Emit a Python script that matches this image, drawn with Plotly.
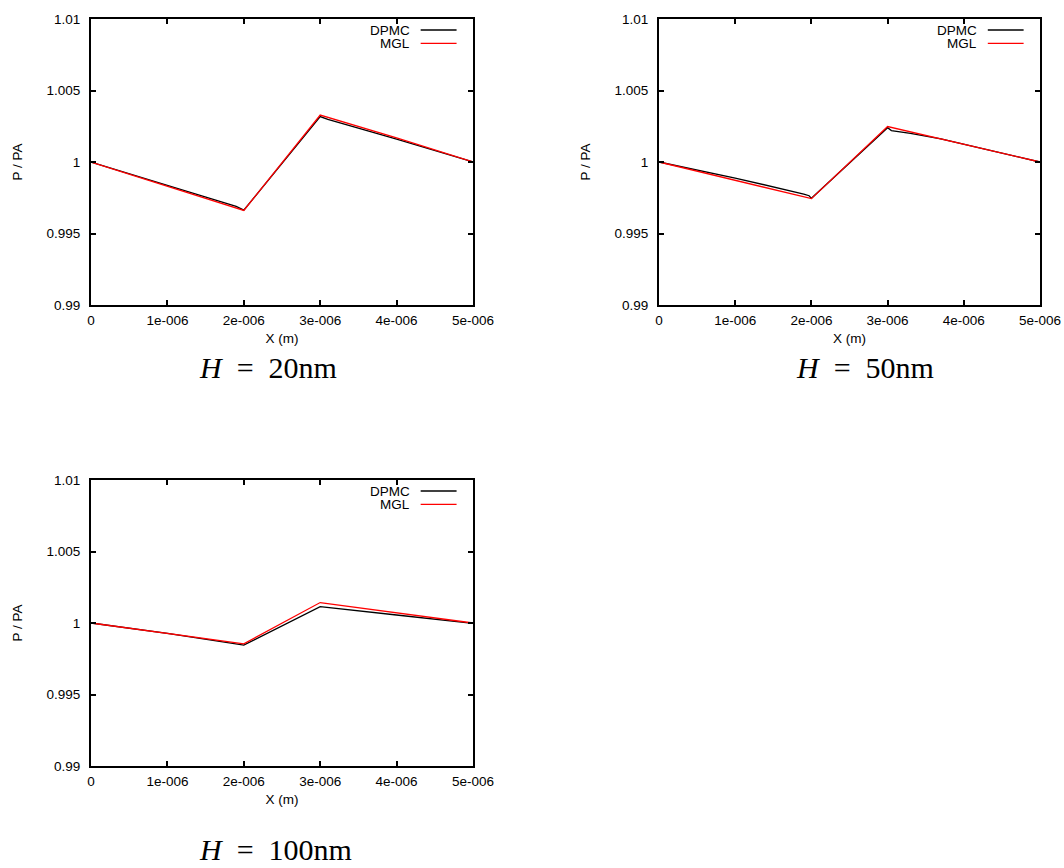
import plotly.graph_objects as go

# ---------------- data ----------------
x_ticks = [0, 1e-6, 2e-6, 3e-6, 4e-6, 5e-6]
x_tick_labels = ["0", "1e-006", "2e-006", "3e-006", "4e-006", "5e-006"]
y_ticks = [0.99, 0.995, 1.0, 1.005, 1.01]
y_tick_labels = ["0.99", "0.995", "1", "1.005", "1.01"]

series_names = ["DPMC", "MGL"]
captions = ["20nm", "50nm", "100nm"]

# H = 20nm
h20_dpmc_x = [0, 1e-6, 1.9e-6, 2e-6, 3e-6, 3.1e-6, 4e-6, 5e-6]
h20_dpmc_y = [1.0, 0.99836, 0.99690, 0.99663, 1.00318, 1.00298, 1.00160, 1.0]
h20_mgl_x = [0, 1e-6, 2e-6, 3e-6, 4e-6, 5e-6]
h20_mgl_y = [1.0, 0.99831, 0.99661, 1.00328, 1.00168, 1.0]

# H = 50nm
h50_dpmc_x = [0, 1e-6, 1.9e-6, 1.97e-6, 2e-6, 3e-6, 3.05e-6, 3.3e-6, 3.7e-6, 4e-6, 5e-6]
h50_dpmc_y = [1.0, 0.99888, 0.99776, 0.99764, 0.99746, 1.00240, 1.00220, 1.00200, 1.00162, 1.00125, 1.0]
h50_mgl_x = [0, 1e-6, 2e-6, 3e-6, 4e-6, 5e-6]
h50_mgl_y = [1.0, 0.99873, 0.99744, 1.00248, 1.00125, 1.0]

# H = 100nm
h100_dpmc_x = [0, 1e-6, 2e-6, 3e-6, 4e-6, 5e-6]
h100_dpmc_y = [1.0, 0.99927, 0.99845, 1.00115, 1.00056, 0.99998]
h100_mgl_x = [0, 1e-6, 2e-6, 3e-6, 4e-6, 5e-6]
h100_mgl_y = [1.0, 0.99928, 0.99854, 1.00143, 1.00073, 1.0]

colors = ["#000000", "#ff0000"]

panels = [
    (h20_dpmc_x, h20_dpmc_y, h20_mgl_x, h20_mgl_y),
    (h50_dpmc_x, h50_dpmc_y, h50_mgl_x, h50_mgl_y),
    (h100_dpmc_x, h100_dpmc_y, h100_mgl_x, h100_mgl_y),
]

W, H = 1064, 868
# pixel boxes (left, right, top, bottom)
boxes = [(91, 473, 19, 305), (659, 1040, 19, 305), (91, 473, 480, 766)]
caption_pos = [(268, 368, "middle"), (865, 368, "middle"), (275, 868, "bottom")]

FONT = "Liberation Sans, Arial, sans-serif"
SERIF = "Liberation Serif, DejaVu Serif, serif"

fig = go.Figure()

for i, (dx, dy, mx, my) in enumerate(panels):
    sfx = "" if i == 0 else str(i + 1)
    fig.add_trace(go.Scatter(x=dx, y=dy, mode="lines", name=series_names[0],
                             line=dict(color=colors[0], width=1.3),
                             xaxis="x" + sfx, yaxis="y" + sfx, showlegend=False))
    fig.add_trace(go.Scatter(x=mx, y=my, mode="lines", name=series_names[1],
                             line=dict(color=colors[1], width=1.3),
                             xaxis="x" + sfx, yaxis="y" + sfx, showlegend=False))

layout = dict(template="none", width=W, height=H, margin=dict(l=0, r=0, t=0, b=0, pad=0),
              paper_bgcolor="white", plot_bgcolor="white",
              font=dict(family=FONT, size=13.5, color="black"),
              annotations=[], shapes=[])

for i, (l, r, t, b) in enumerate(boxes):
    sfx = "" if i == 0 else str(i + 1)
    common = dict(showline=True, linecolor="black", linewidth=2, mirror="allticks",
                  ticks="inside", ticklen=5, tickwidth=1.5, tickcolor="black",
                  showgrid=False, zeroline=False, automargin=False,
                  tickfont=dict(family=FONT, size=13.5, color="black"))
    layout["xaxis" + sfx] = dict(common, domain=[l / W, r / W], anchor="y" + sfx,
                                 range=[0, 5e-6], tickvals=x_ticks, ticktext=x_tick_labels,
                                 ticklabelstandoff=2,
                                 title=dict(text="X (m)", standoff=6,
                                            font=dict(family=FONT, size=13.5)))
    layout["yaxis" + sfx] = dict(common, domain=[1 - b / H, 1 - t / H], anchor="x" + sfx,
                                 range=[0.99, 1.01], tickvals=y_ticks, ticktext=y_tick_labels,
                                 ticklabelstandoff=6,
                                 title=dict(text="P / PA", standoff=21,
                                            font=dict(family=FONT, size=13.5)))
    xd, yd = "x" + sfx + " domain", "y" + sfx + " domain"
    for k, (name, yfrac) in enumerate(zip(series_names, [0.9615, 0.9147])):
        layout["annotations"].append(dict(xref=xd, yref=yd, x=0.84, y=yfrac, text=name,
                                          showarrow=False, xanchor="right", yanchor="middle",
                                          font=dict(family=FONT, size=13.5, color="black")))
        layout["shapes"].append(dict(type="line", xref=xd, yref=yd, x0=0.863, x1=0.957,
                                     y0=yfrac, y1=yfrac,
                                     line=dict(color=colors[k], width=1.3)))
    cx, cy, ya = caption_pos[i]
    layout["annotations"].append(dict(xref="paper", yref="paper", x=cx / W, y=1 - cy / H,
                                      text="<i>H</i>\u2002=\u2002" + captions[i], showarrow=False,
                                      xanchor="center", yanchor=ya,
                                      font=dict(family=SERIF, size=30, color="black")))

fig.update_layout(**layout)
fig.write_html("out.html")
